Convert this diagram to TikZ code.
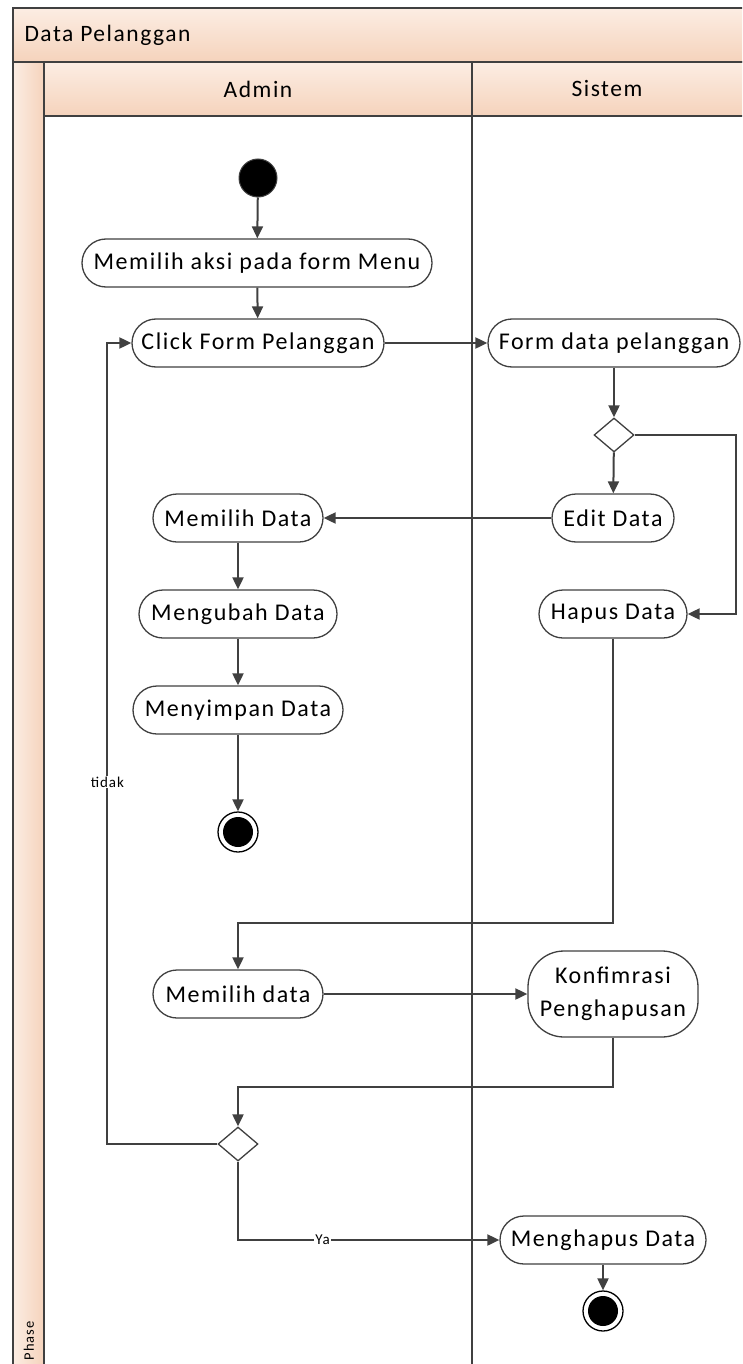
\documentclass[tikz,border=0pt]{standalone}
\usepackage{fontspec}
\setmainfont{Carlito}[LetterSpace=6.5]
\usetikzlibrary{arrows.meta,shapes.geometric,calc}
\definecolor{ln}{HTML}{404040}
\definecolor{bandlight}{HTML}{FCEDE3}
\definecolor{banddark}{HTML}{F5D3BC}
\begin{document}
\begin{tikzpicture}[x=1pt,y=-1pt,
  act/.style={draw=ln, line width=1.3pt, rounded corners=24pt, minimum height=48pt,
    inner sep=0pt, fill=white, font=\fontsize{24}{28}\selectfont},
  flow/.style={draw=ln, line width=2pt, -{Triangle[length=12pt,width=11pt]}},
  band/.style={draw=ln, line width=1.5pt, top color=bandlight, bottom color=banddark},
  lanehead/.style={font=\fontsize{23.5}{28}\selectfont},
  lbl/.style={fill=white, inner sep=1pt, font=\fontsize{15}{17}\selectfont},
  decision/.style={diamond, draw=ln, line width=1.3pt, fill=white, minimum width=40pt,
    minimum height=34pt, inner sep=0pt, aspect=1.2},
  startnode/.style={circle, fill=black, draw=ln, line width=1pt, minimum size=38pt, inner sep=0pt},
  endnode/.style={circle, draw=black, line width=1.3pt, fill=white, minimum size=40pt, inner sep=0pt,
    path picture={\fill[black] (path picture bounding box.center) circle (15pt);}}
]
\useasboundingbox (0,0) rectangle (742,1364);
\clip (0,0) rectangle (742,1364);

% swimlane frame
\draw[band] (13,8) rectangle (760,62);
\draw[band] (44,62) rectangle (472,116);
\draw[band] (472,62) rectangle (760,116);
\draw[draw=ln, line width=1.5pt, left color=bandlight, right color=banddark] (13,62) rectangle (44,1400);
\draw[ln, line width=1.5pt] (472,116) -- (472,1400);
\node[lanehead, anchor=west] (pool) at (21,35) {Data Pelanggan};
\node[lanehead] (admin) at (258,89) {Admin};
\node[lanehead] (sistem) at (607,89) {Sistem};
\node[font=\fontsize{14.5}{16}\selectfont, rotate=90] (phase) at (29,1341) {Phase};

% activities
\node[startnode] (start) at (258,178) {};
\node[act, minimum width=350pt] (aksi) at (257,263) {Memilih aksi pada form Menu};
\node[act, minimum width=252pt] (click) at (258,343) {Click Form Pelanggan};
\node[act, minimum width=252pt] (formdata) at (614,343) {Form data pelanggan};
\node[decision] (dec1) at (614,435) {};
\node[act, minimum width=122pt] (edit) at (613,518) {Edit Data};
\node[act, minimum width=148pt] (hapus) at (613,614) {Hapus Data};
\node[act, minimum width=170pt] (memilih) at (238,518) {Memilih Data};
\node[act, minimum width=198pt] (mengubah) at (238,614) {Mengubah Data};
\node[act, minimum width=210pt] (menyimpan) at (238,710) {Menyimpan Data};
\node[endnode] (end1) at (238,832) {};
\node[act, minimum width=170pt] (pilih) at (238,994) {Memilih data};
\node[act, minimum width=170pt, minimum height=86pt, rounded corners=36pt, align=center,
  font=\fontsize{24}{33}\selectfont] (konf) at (613,994) {Konfimrasi\\Penghapusan};
\node[decision] (dec2) at (238,1144) {};
\node[act, minimum width=206pt] (menghapus) at (603,1240) {Menghapus Data};
\node[endnode] (end2) at (603,1311) {};

% control flow
\draw[flow] (start) -- (aksi);
\draw[flow] (aksi) -- (click);
\draw[flow] (click) -- (formdata);
\draw[flow] (formdata) -- (dec1);
\draw[flow] (dec1) -- (edit);
\draw[flow] (dec1.east) -- ++(101,0) |- (hapus.east);
\draw[flow] (edit) -- (memilih);
\draw[flow] (memilih) -- (mengubah);
\draw[flow] (mengubah) -- (menyimpan);
\draw[flow] (menyimpan) -- (end1);
\draw[flow] (hapus.south) |- ($(pilih.north)+(0,-46)$) -- (pilih.north);
\draw[flow] (pilih) -- (konf);
\draw[flow] (konf.south) |- ($(dec2.north)+(0,-39)$) -- (dec2.north);
\draw[flow] (dec2.west) -- ++(-110,0) |- node[lbl, pos=0.226] {tidak} (click.west);
\draw[flow] (dec2.south) |- node[lbl, pos=0.662] {Ya} (menghapus.west);
\draw[flow] (menghapus) -- (end2);
\end{tikzpicture}
\end{document}
